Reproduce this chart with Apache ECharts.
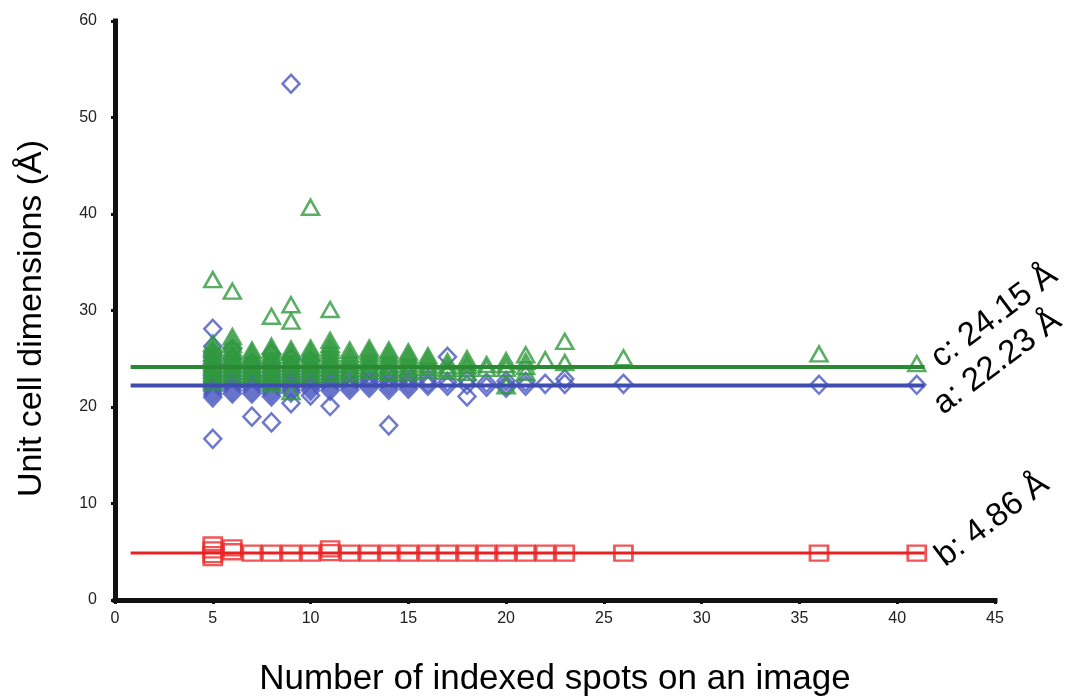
<!DOCTYPE html>
<html>
<head>
<meta charset="utf-8">
<script src="https://cdn.jsdelivr.net/npm/echarts@6/dist/echarts.min.js"></script>
<style>
html,body{margin:0;padding:0;background:#fff;}
#chart{width:1073px;height:698px;}
</style>
</head>
<body>
<div id="chart"></div>
<script>
// ---- data ----
const xTicks = [0, 5, 10, 15, 20, 25, 30, 35, 40, 45];
const yTicks = [0, 10, 20, 30, 40, 50, 60];

const meanA = 22.23, meanB = 4.86, meanC = 24.15;
const meanLineX = [0.8, 41.4];

// a: blue diamonds  [spots, value]
const aPoints = [
  [5,28.1],[5,26.3],[5,25.6],[5,25.2],[5,24.8],[5,24.4],[5,24.0],[5,23.7],[5,23.4],[5,23.1],[5,22.8],[5,22.5],[5,22.2],[5,21.9],[5,21.6],[5,21.3],[5,21.0],[5,16.7],
  [6,26.0],[6,25.0],[6,24.5],[6,24.0],[6,23.6],[6,23.2],[6,22.9],[6,22.6],[6,22.3],[6,22.0],[6,21.7],[6,21.4],
  [7,24.5],[7,24.0],[7,23.6],[7,23.2],[7,22.9],[7,22.6],[7,22.3],[7,22.0],[7,21.7],[7,21.4],[7,19.0],
  [8,25.5],[8,24.5],[8,24.0],[8,23.6],[8,23.2],[8,22.9],[8,22.6],[8,22.3],[8,22.0],[8,21.7],[8,21.4],[8,21.1],[8,18.4],
  [9,53.5],[9,25.0],[9,24.2],[9,23.8],[9,23.4],[9,23.0],[9,22.7],[9,22.4],[9,22.1],[9,21.8],[9,21.5],[9,20.4],
  [10,24.8],[10,24.0],[10,23.6],[10,23.2],[10,22.9],[10,22.6],[10,22.3],[10,22.0],[10,21.7],[10,21.2],
  [11,24.2],[11,23.7],[11,23.3],[11,22.9],[11,22.6],[11,22.3],[11,22.0],[11,21.7],[11,20.1],
  [12,23.6],[12,23.1],[12,22.7],[12,22.4],[12,22.1],[12,21.8],
  [13,23.9],[13,23.3],[13,22.9],[13,22.6],[13,22.3],[13,22.0],
  [14,23.6],[14,23.1],[14,22.7],[14,22.4],[14,22.1],[14,21.8],[14,18.1],
  [15,23.2],[15,22.8],[15,22.5],[15,22.2],[15,21.9],
  [16,22.9],[16,22.5],[16,22.2],
  [17,25.2],[17,22.6],[17,22.2],
  [18,22.8],[18,22.3],[18,21.1],
  [19,22.5],[19,22.1],
  [20,22.7],[20,22.3],[20,22.0],
  [21,22.6],[21,22.2],
  [22,22.4],
  [23,22.9],[23,22.4],
  [26,22.4],
  [36,22.3],
  [41,22.3]
];

// c: green triangles
const cPoints = [
  [5,33.2],[5,26.6],[5,26.2],[5,25.9],[5,25.6],[5,25.3],[5,25.0],[5,24.7],[5,24.4],[5,24.1],[5,23.8],[5,23.5],[5,23.2],[5,22.9],[5,22.6],
  [6,32.0],[6,27.3],[6,26.9],[6,26.5],[6,26.1],[6,25.8],[6,25.5],[6,25.2],[6,24.9],[6,24.6],[6,24.3],[6,24.0],[6,23.7],[6,23.4],[6,23.1],
  [7,25.9],[7,25.6],[7,25.3],[7,25.0],[7,24.7],[7,24.4],[7,24.1],[7,23.8],[7,23.5],[7,23.2],[7,22.9],
  [8,29.4],[8,26.3],[8,26.0],[8,25.7],[8,25.4],[8,25.1],[8,24.8],[8,24.5],[8,24.2],[8,23.9],[8,23.6],[8,23.3],[8,23.0],[8,22.7],[8,22.4],
  [9,30.6],[9,28.9],[9,26.0],[9,25.7],[9,25.4],[9,25.1],[9,24.8],[9,24.5],[9,24.2],[9,23.9],[9,23.6],[9,23.3],[9,21.6],
  [10,40.7],[10,26.1],[10,25.8],[10,25.5],[10,25.2],[10,24.9],[10,24.6],[10,24.3],[10,24.0],[10,23.7],[10,23.4],[10,23.1],
  [11,30.1],[11,26.9],[11,26.5],[11,26.2],[11,25.9],[11,25.6],[11,25.3],[11,25.0],[11,24.7],[11,24.4],[11,24.1],[11,23.8],[11,23.5],[11,23.2],
  [12,25.9],[12,25.5],[12,25.2],[12,24.9],[12,24.6],[12,24.3],[12,24.0],[12,23.7],[12,23.4],
  [13,26.1],[13,25.8],[13,25.5],[13,25.2],[13,24.9],[13,24.6],[13,24.3],[13,24.0],[13,23.7],
  [14,25.9],[14,25.6],[14,25.3],[14,25.0],[14,24.7],[14,24.4],[14,24.1],[14,23.8],[14,23.5],
  [15,25.7],[15,25.4],[15,25.1],[15,24.8],[15,24.5],[15,24.2],[15,23.9],[15,23.6],
  [16,25.3],[16,25.0],[16,24.7],[16,24.4],[16,24.1],[16,23.8],
  [17,24.7],[17,24.3],[17,24.0],[17,23.7],
  [18,25.0],[18,24.6],[18,24.3],[18,24.0],[18,23.6],
  [19,24.4],[19,24.0],
  [20,24.8],[20,24.4],[20,24.0],[20,22.2],
  [21,25.4],[21,24.7],[21,24.2],[21,23.6],
  [22,24.9],
  [23,26.8],[23,24.6],
  [26,25.1],
  [36,25.5],
  [41,24.5]
];

// b: red squares
const bPoints = [
  [5,5.7],[5,5.2],[5,4.7],[5,4.4],
  [6,5.4],[6,5.0],
  [7,4.86],[8,4.86],[9,4.86],[10,4.86],
  [11,5.3],[11,4.9],
  [12,4.86],[13,4.86],[14,4.86],[15,4.86],[16,4.86],[17,4.86],[18,4.86],[19,4.86],[20,4.86],[21,4.86],[22,4.86],[23,4.86],
  [26,4.86],[36,4.86],[41,4.86]
];

const labelA = 'a: 22.23 Å', labelB = 'b: 4.86 Å', labelC = 'c: 24.15 Å';

// ---- chart ----
const GREEN = '#2f9a3c', GREEN_LINE = '#2a8a34';
const BLUE = '#4a58c0', BLUE_LINE = '#3f4db0';
const RED = '#ee2a2a', RED_LINE = '#e82222';
const FONT = '"Liberation Sans", Arial, Helvetica, sans-serif';

function meanLine(val, color, width, label, offset) {
  return {
    type: 'line',
    data: [[meanLineX[0], val], [meanLineX[1], val]],
    symbol: 'none',
    lineStyle: { color: color, width: width },
    z: 5,
    silent: true,
    endLabel: {
      show: true,
      formatter: label,
      rotate: 37,
      distance: 6,
      offset: offset,
      color: '#000',
      fontFamily: FONT,
      fontSize: 33,
      align: 'left',
      verticalAlign: 'middle'
    },
    animation: false
  };
}

const chart = echarts.init(document.getElementById('chart'), null, { renderer: 'canvas' });
chart.setOption({
  backgroundColor: '#ffffff',
  animation: false,
  grid: { left: 115, right: 78, top: 21, bottom: 98, containLabel: false, outerBoundsMode: 'none' },
  xAxis: {
    type: 'value', min: xTicks[0], max: xTicks[xTicks.length - 1], interval: 5,
    name: 'Number of indexed spots on an image',
    nameLocation: 'middle', nameGap: 62,
    nameTextStyle: { fontFamily: FONT, fontSize: 35, color: '#000' },
    axisLine: { show: true, onZero: false, lineStyle: { color: '#111', width: 5, cap: 'square' } },
    axisTick: { show: true, inside: false, length: 4, lineStyle: { color: '#111', width: 3 } },
    axisLabel: { fontFamily: FONT, fontSize: 16, color: '#222', margin: 11 },
    splitLine: { show: false }
  },
  yAxis: {
    type: 'value', min: yTicks[0], max: yTicks[yTicks.length - 1], interval: 10,
    name: 'Unit cell dimensions (Å)',
    nameLocation: 'middle', nameGap: 66,
    nameTextStyle: { fontFamily: FONT, fontSize: 34, color: '#000', padding: [0, 16, 0, 0] },
    axisLine: { show: true, onZero: false, lineStyle: { color: '#111', width: 5, cap: 'square' } },
    axisTick: { show: true, inside: false, length: 4, lineStyle: { color: '#111', width: 3 } },
    axisLabel: { fontFamily: FONT, fontSize: 16, color: '#222', margin: 18 },
    splitLine: { show: false }
  },
  series: [
    {
      name: 'a', type: 'scatter', data: aPoints, symbol: 'diamond', symbolSize: [17, 18],
      itemStyle: { color: 'rgba(0,0,0,0)', borderColor: BLUE, borderWidth: 2.5 }, z: 2
    },
    {
      name: 'c', type: 'scatter', data: cPoints, symbol: 'triangle', symbolSize: [17, 15],
      itemStyle: { color: 'rgba(0,0,0,0)', borderColor: GREEN, borderWidth: 2.5 }, z: 3
    },
    {
      name: 'b', type: 'scatter', data: bPoints, symbol: 'rect', symbolSize: [18, 15],
      itemStyle: { color: 'rgba(0,0,0,0)', borderColor: RED, borderWidth: 2.5 }, z: 3
    },
    meanLine(meanC, GREEN_LINE, 4, labelC, [7, -2]),
    meanLine(meanA, BLUE_LINE, 4, labelA, [-8, 22]),
    meanLine(meanB, RED_LINE, 3, labelB, [3, 11])
  ]
});
</script>
</body>
</html>
